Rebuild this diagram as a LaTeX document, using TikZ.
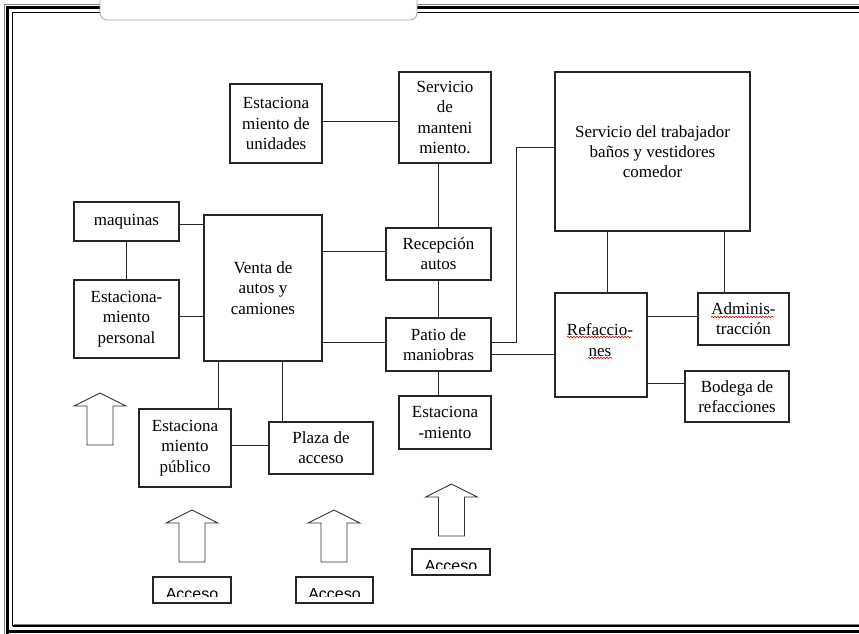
\documentclass[tikz,border=0pt]{standalone}
\usepackage{fontspec}
\setmainfont{Liberation Serif}
\newfontfamily\accsans{Liberation Sans}
\usetikzlibrary{decorations.pathmorphing}
\newcommand\boxfont{\fontsize{17}{20.3}\selectfont}
\newcommand\accfont{\accsans\fontsize{16}{18}\selectfont}
\tikzset{
  box/.style={draw=black!85, line width=1.1pt, align=center, inner sep=0pt, font=\boxfont, fill=white},
  conn/.style={draw=black!85, line width=1pt},
  plaintext/.style={align=center, inner sep=0pt, font=\boxfont},
  blockarrow/.pic={\draw[black!80, line width=0.9pt, line join=miter] (0,0) -- (26,13) -- (13,13) -- (13,52) -- (-13,52) -- (-13,13) -- (-26,13) -- cycle;},
  squiggle/.style={red!85!black, line width=0.6pt, decorate, decoration={snake, segment length=3pt, amplitude=0.8pt}},
  acctext/.style={font=\accfont, anchor=base, inner sep=0pt}
}
\begin{document}
\begin{tikzpicture}[x=1pt,y=-1pt]
\useasboundingbox (0,0) rectangle (859,633);
\clip (0,0) rectangle (859,633);
% frame
\draw[gray, line width=1.5pt] (4.5,640) -- (4.5,4.5) -- (870,4.5);
\draw[black, line width=3pt] (7.5,631) -- (870,631);
\draw[black, line width=3pt] (870,7.5) -- (7.5,7.5) -- (7.5,640);
\draw[black, line width=1.2pt] (12.5,626) -- (12.5,12.5) -- (870,12.5);
\draw[black, line width=1.2pt] (12.5,626) -- (870,626);
\draw[gray, line width=1pt] (14.2,624.3) -- (870,624.3);
% tab
\draw[gray!70, line width=0.8pt, fill=white, rounded corners=7pt] (100,-10) -- (100,20) -- (417,20) -- (417,-10);

% nodes
\node[box, minimum width=92pt, minimum height=79pt] (eu) at (276,123.5) {Estaciona\\miento de\\unidades};
\node[box, minimum width=92pt, minimum height=91pt] (sm) at (445,117.5) {Servicio\\de\\manteni\\miento.};
\node[box, minimum width=105pt, minimum height=52pt] (rec) at (438.5,254) {Recepción\\autos};
\node[box, minimum width=105pt, minimum height=39pt] (maq) at (126.5,221.5) {maquinas};
\node[box, minimum width=118pt, minimum height=146pt] (venta) at (263,288) {Venta de\\autos y\\camiones};
\node[box, minimum width=105pt, minimum height=78pt] (ep) at (126.5,319) {Estaciona-\\miento\\personal};
\node[box, minimum width=105pt, minimum height=53pt] (patio) at (438.5,344.5) {Patio de\\maniobras};
\node[box, minimum width=195pt, minimum height=159pt] (st) at (652.5,151.5) {Servicio del trabajador\\baños y vestidores\\comedor};
\node[box, minimum width=92pt, minimum height=104pt] (ref) at (601,345) {};
\node[plaintext] (reft) at (600,340) {Refaccio-\\nes};
\node[box, minimum width=91pt, minimum height=52pt] (adm) at (743.5,319) {Adminis-\\tracción};
\node[box, minimum width=104pt, minimum height=51pt] (bod) at (737,396.5) {Bodega de\\refacciones};
\node[box, minimum width=92pt, minimum height=78pt] (epub) at (185,448) {Estaciona\\miento\\público};
\node[box, minimum width=104pt, minimum height=52pt] (plaza) at (321,448) {Plaza de\\acceso};
\node[box, minimum width=92pt, minimum height=53pt] (em) at (445,422.5) {Estaciona\\-miento};
\node[box, minimum width=78pt, minimum height=26pt] (acc1) at (192,590) {};
\node[box, minimum width=77pt, minimum height=26pt] (acc2) at (334.5,590) {};
\node[box, minimum width=78pt, minimum height=26pt] (acc3) at (451,562) {};

% clipped Acceso labels
\begin{scope}
\clip (acc1.north west) rectangle ([yshift=7pt]acc1.south east);
\node[acctext] (acct1) at ([yshift=4pt]acc1.south) {Acceso};
\end{scope}
\begin{scope}
\clip (acc2.north west) rectangle ([yshift=7pt]acc2.south east);
\node[acctext] (acct2) at ([yshift=4pt]acc2.south) {Acceso};
\end{scope}
\begin{scope}
\clip (acc3.north west) rectangle ([yshift=7pt]acc3.south east);
\node[acctext] (acct3) at ([yshift=4pt]acc3.south) {Acceso};
\end{scope}

% spell-check squiggles
\draw[squiggle] (567,337) -- (631,337);
\draw[squiggle] (588,358) -- (612,358);
\draw[squiggle] (711,317) -- (774,317);

% connectors
\draw[conn] (eu.east |- 0,121) -- (sm.west |- 0,121);
\draw[conn] (rec.north) -- (rec.north |- sm.south);
\draw[conn] (maq.east |- 0,224) -- (venta.west |- 0,224);
\draw[conn] (maq.south) -- (ep.north);
\draw[conn] (ep.east |- 0,316) -- (venta.west |- 0,316);
\draw[conn] (venta.east |- 0,251) -- (rec.west |- 0,251);
\draw[conn] (venta.east |- 0,342) -- (patio.west |- 0,342);
\draw[conn] (rec.south) -- (patio.north);
\draw[conn] (patio.east |- 0,342) -- (516,342) -- (516,147) -- (st.west |- 0,147);
\draw[conn] (patio.east |- 0,354) -- (ref.west |- 0,354);
\draw[conn] (st.south -| 607,0) -- (ref.north -| 607,0);
\draw[conn] (st.south -| 724,0) -- (adm.north -| 724,0);
\draw[conn] (ref.east |- 0,316) -- (adm.west |- 0,316);
\draw[conn] (ref.east |- 0,383) -- (bod.west |- 0,383);
\draw[conn] (venta.south -| 218,0) -- (epub.north -| 218,0);
\draw[conn] (venta.south -| 282,0) -- (plaza.north -| 282,0);
\draw[conn] (epub.east |- 0,445) -- (plaza.west |- 0,445);
\draw[conn] (patio.south) -- (patio.south |- em.north);

% block arrows
\pic at (100,393) {blockarrow};
\pic at (192,510) {blockarrow};
\pic at (334,510) {blockarrow};
\pic at (451.5,484) {blockarrow};
\end{tikzpicture}
\end{document}
